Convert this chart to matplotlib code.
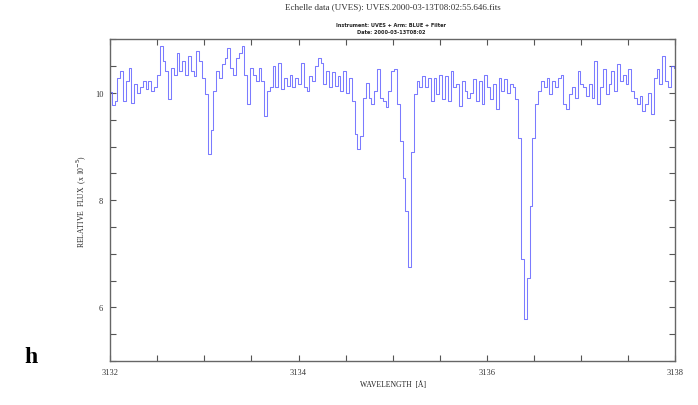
import matplotlib.pyplot as plt
import numpy as np
from matplotlib.ticker import MultipleLocator, FixedLocator

# UVES echelle extract, 3132-3138 A window
wave_start = 3132.0
wave_step = 0.03

flux = [
    10.02, 9.78, 9.85, 10.28, 10.40, 9.85, 10.22, 10.47, 9.82, 10.16,
    10.00, 10.10, 10.22, 10.07, 10.22, 10.04, 10.10, 10.34, 10.87, 10.59,
    10.41, 9.88, 10.47, 10.34, 10.75, 10.41, 10.59, 10.34, 10.68, 10.41,
    10.31, 10.78, 10.59, 10.28, 9.97, 8.86, 9.30, 10.04, 10.41, 10.28,
    10.53, 10.65, 10.84, 10.47, 10.34, 10.65, 10.75, 10.87, 10.34, 9.79,
    10.47, 10.34, 10.22, 10.47, 10.22, 9.57, 10.04, 10.10, 10.50, 10.10,
    10.56, 10.07, 10.28, 10.13, 10.34, 10.10, 10.28, 10.16, 10.56, 10.10,
    10.04, 10.31, 10.22, 10.50, 10.65, 10.56, 10.16, 10.41, 10.10, 10.38,
    10.13, 10.31, 10.04, 10.41, 10.00, 10.28, 9.85, 9.23, 8.95, 9.20,
    9.91, 10.19, 9.91, 9.79, 10.04, 10.44, 9.91, 9.85, 9.73, 10.04,
    10.41, 10.44, 9.79, 9.10, 8.42, 7.80, 6.75, 8.90, 9.97, 10.22,
    10.10, 10.31, 10.10, 10.28, 9.85, 10.28, 9.97, 10.34, 9.88, 10.31,
    9.85, 10.41, 10.10, 10.16, 9.76, 10.22, 10.04, 9.91, 10.00, 10.25,
    9.85, 10.22, 9.79, 10.34, 10.10, 9.88, 10.16, 9.70, 10.28, 10.04,
    10.25, 10.00, 10.16, 10.10, 9.88, 9.16, 6.90, 5.78, 6.55, 7.90,
    9.15, 9.79, 10.04, 10.22, 10.10, 10.28, 9.97, 10.22, 10.10, 10.28,
    10.34, 9.79, 9.70, 9.97, 10.10, 9.91, 10.41, 10.16, 10.10, 9.94,
    10.16, 9.91, 10.59, 9.79, 10.10, 10.44, 9.97, 10.16, 10.41, 10.04,
    10.53, 10.22, 10.34, 10.16, 10.44, 10.04, 9.91, 9.79, 9.94, 9.66,
    9.79, 10.00, 9.60, 10.28, 10.44, 10.16, 10.68, 10.22, 10.10, 10.50,
    10.47,
]
wave = wave_start + wave_step * np.arange(len(flux))

x_ticks = [3132, 3134, 3136, 3138]
y_ticks = [6, 8, 10]

title = "Echelle data (UVES): UVES.2000-03-13T08:02:55.646.fits"
sub1 = "Instrument: UVES + Arm: BLUE + Filter"
sub2 = "Date: 2000-03-13T08:02"

fig = plt.figure(figsize=(6.98, 4.06), dpi=100)
ax = fig.add_axes([0.158, 0.108, 0.809, 0.793])

ax.plot(wave, flux, drawstyle="steps-mid", color="#6464ff", lw=0.75, alpha=0.85)

ax.set_xlim(3132, 3138)
ax.set_ylim(5, 11)
ax.xaxis.set_major_locator(FixedLocator(x_ticks))
ax.xaxis.set_minor_locator(MultipleLocator(0.5))
ax.yaxis.set_major_locator(FixedLocator(y_ticks))
ax.yaxis.set_minor_locator(MultipleLocator(0.5))
ax.tick_params(which="both", direction="in", top=True, right=True,
               length=4, width=0.8, color="#555555", labelsize=6,
               labelcolor="#333333", pad=5)
for lab in ax.get_xticklabels() + ax.get_yticklabels():
    lab.set_family("Liberation Serif")
for s in ax.spines.values():
    s.set_color("#666666")
    s.set_linewidth(1.0)

ax.set_xlabel("WAVELENGTH  [Å]", fontsize=5.5, family="Liberation Serif",
              color="#222222", labelpad=3)
ax.set_ylabel("RELATIVE  FLUX  (x 10$^{-5}$)", fontsize=5.5,
              family="Liberation Serif", color="#222222", labelpad=4)

fig.text(0.563, 0.982, title, ha="center", va="center", fontsize=6.5,
         family="Liberation Serif", color="#333333")
fig.text(0.56, 0.938, sub1, ha="center", va="center", fontsize=3.6,
         family="DejaVu Sans", color="#222222", weight="bold")
fig.text(0.56, 0.921, sub2, ha="center", va="center", fontsize=3.6,
         family="DejaVu Sans", color="#222222", weight="bold")

fig.text(0.045, 0.12, "h", ha="center", va="center", fontsize=17,
         family="Liberation Serif", weight="bold")

fig.savefig("out.png", dpi=100)
